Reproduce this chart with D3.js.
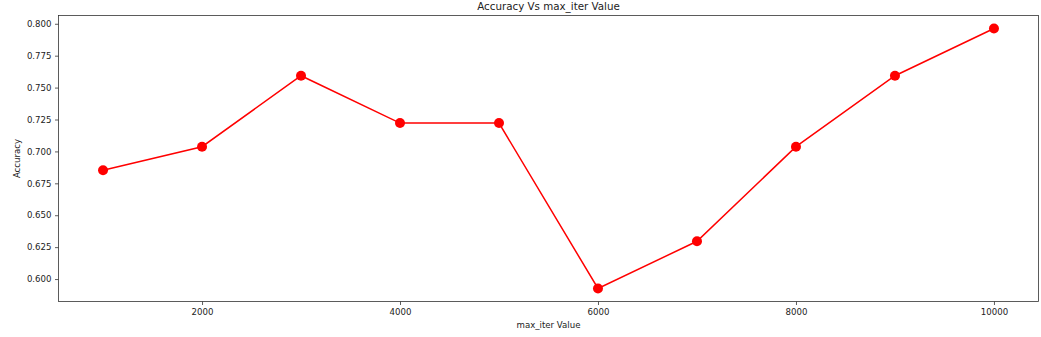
<!DOCTYPE html>
<html><head><meta charset="utf-8">
<script src="https://cdn.jsdelivr.net/npm/d3@7"></script>
<style>body{margin:0;background:#fff}svg{display:block}text{font-family:"DejaVu Sans",sans-serif;fill:#222}</style>
</head><body>
<svg id="c" width="1041" height="337"></svg>
<script>
const maxIter = [1000,2000,3000,4000,5000,6000,7000,8000,9000,10000];
const accuracy = [0.6852,0.7037,0.7593,0.7222,0.7222,0.5926,0.6296,0.7037,0.7593,0.7963];
const xTicks = [2000,4000,6000,8000,10000];
const yTicks = [0.600,0.625,0.650,0.675,0.700,0.725,0.750,0.775,0.800];

const svg = d3.select("#c");
const L=58.5, R=1038.5, T=15.5, B=301.5;
const x = d3.scaleLinear().domain([550,10450]).range([L,R]);
const y = d3.scaleLinear().domain([0.58241,0.80648]).range([B,T]);

const fs = 8.6;
const xa = svg.append("g").attr("transform",`translate(0,${B})`)
  .call(d3.axisBottom(x).tickValues(xTicks).tickSize(3.5).tickPadding(3.5).tickFormat(d3.format("d")));
const ya = svg.append("g").attr("transform",`translate(${L},0)`)
  .call(d3.axisLeft(y).tickValues(yTicks).tickSize(3.5).tickPadding(3.5).tickFormat(d3.format(".3f")));
[xa,ya].forEach(a=>{a.select(".domain").remove();a.selectAll("line").attr("stroke","#333").attr("stroke-width",0.8);
  a.selectAll("text").attr("font-family","DejaVu Sans").attr("font-size",fs).attr("fill","#222");});

svg.append("rect").attr("x",L).attr("y",T).attr("width",R-L).attr("height",B-T)
  .attr("fill","none").attr("stroke","#333").attr("stroke-width",0.8);

const pts = maxIter.map((v,i)=>[v,accuracy[i]]);
svg.append("path").datum(pts).attr("fill","none").attr("stroke","#ff0000").attr("stroke-width",1.5)
  .attr("d",d3.line().x(d=>x(d[0])).y(d=>y(d[1])));
svg.selectAll("circle.m").data(pts).join("circle").attr("class","m")
  .attr("cx",d=>x(d[0])).attr("cy",d=>y(d[1])).attr("r",5).attr("fill","#ff0000");

svg.append("text").attr("x",(L+R)/2).attr("y",10).attr("text-anchor","middle").attr("font-size",10.3).text("Accuracy Vs max_iter Value");
svg.append("text").attr("x",(L+R)/2).attr("y",328).attr("text-anchor","middle").attr("font-size",fs).text("max_iter Value");
svg.append("text").attr("transform",`translate(20,${(T+B)/2}) rotate(-90)`).attr("text-anchor","middle").attr("font-size",fs).text("Accuracy");
</script>
</body></html>
